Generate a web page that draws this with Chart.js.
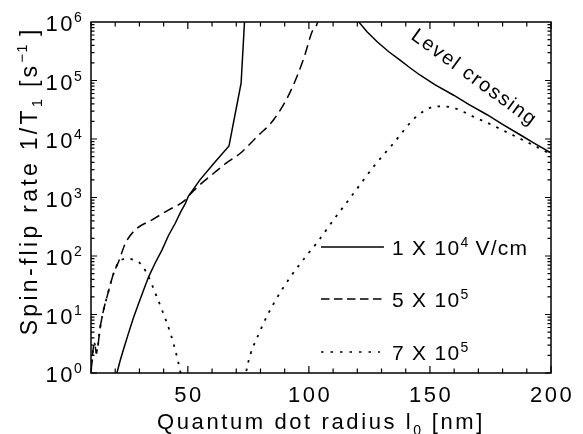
<!DOCTYPE html>
<html>
<head>
<meta charset="UTF-8">
<title>Spin-flip rate</title>
<style>
  html, body { margin: 0; padding: 0; background: #fff; }
  #wrap { width: 583px; height: 434px; }
</style>
</head>
<body>
<div id="wrap"><canvas id="rateChart" width="583" height="434"></canvas></div>
<script src="https://cdn.jsdelivr.net/npm/chart.js"></script>
<script>
const xTickLabels = [50, 100, 150, 200];
const yDecades = [0, 1, 2, 3, 4, 5, 6];
const seriesNames = ['1 X 10', '5 X 10', '7 X 10'];
const seriesExponents = ['4', '5', '5'];
const seriesUnits = [' V/cm', '', ''];

// 1 X 10^4 V/cm (solid) - null = curve leaves the top of the plot
const solidX = [20, 20.7, 22, 23.5, 25.5, 27.5, 29.7, 31.7, 33.8, 36.5, 39.3, 42, 44.8, 47, 49, 50.2, 55, 60.7,
  67, 72, 73.4, 73.7, null,
  119.6, 120.6, 124, 128.2, 133, 137.8, 142, 146, 152, 159.8, 166, 173.6, 180, 187.4, 193, 200];
const solidY = [0.7, 1, 1.6, 2.6, 4.8, 8.7, 15.5, 26, 44, 76, 126, 224, 363, 562, 794, 1050, 2000, 3800,
  7600, 9e4, 1e6, 1.5e6, null,
  1.5e6, 1e6, 6.8e5, 4.6e5, 3.1e5, 2.2e5, 1.62e5, 1.23e5, 8.5e4, 5.6e4, 3.9e4, 2.6e4, 1.78e4, 1.17e4, 8.5e3, 5.8e3];

// 5 X 10^5 (dashed)
const dashX = [10, 10.4, 10.8, 11.5, 12.2, 12.8, 13.8, 15.2, 16.6, 19.3, 21.4, 24.2, 28.3, 35.2, 42, 49, 50.2,
  55, 60.7, 66, 71.7, 78.6, 85.5, 92.4, 97.9, 101.3, 103.6, 104.3];
const dashY = [1.1, 1.5, 2.4, 3.2, 2.2, 2.8, 6, 12, 20, 50, 80, 165, 280, 415, 610, 910, 1050,
  1650, 2600, 3900, 5700, 1.1e4, 2.15e4, 6.5e4, 2.4e5, 6.8e5, 1e6, 1.5e6];

// 7 X 10^5 (dotted)
const dotX = [10, 10.4, 10.8, 11.5, 12.2, 12.8, 13.8, 15.2, 16.6, 19.3, 21.4, 23.2, 25.5, 27.5, 29.7, 31.8,
  33.8, 36.6, 39.3, 42.8, 45.5, 46.9, 47.6, null, 73.6, 74.5, 80, 85.5, 92.4, 99.3, 103.4, 110.2, 118.5,
  126.8, 135, 143.3, 148, 152.3, 155.7, 160, 164, 168, 173.6, 181.9, 191.5, 200];
const dotY = [1.1, 1.5, 2.4, 3.2, 2.2, 2.8, 6, 12, 20, 50, 78, 88, 90, 86, 79, 62,
  44, 23, 12, 4.8, 1.9, 1.05, 0.75, null, 0.75, 1.28, 5.4, 15.5, 44, 105, 170, 415, 1180,
  3400, 8500, 2.2e4, 3.1e4, 3.6e4, 3.6e4, 3.4e4, 2.9e4, 2.4e4, 1.9e4, 1.3e4, 8.3e3, 5.5e3];

const FONT = '"Liberation Sans", Arial, sans-serif';
const dashes = [[], [10, 5.5], [2.5, 6.5]];

function toPoints(xs, ys) {
  return xs.map((x, i) => ({ x: x, y: ys[i] }));
}

// draws text pieces (normal / sub / sup) one after another
function richWidth(ctx, parts) {
  let w = 0;
  parts.forEach(p => {
    ctx.font = p.size + 'px ' + FONT;
    ctx.letterSpacing = p.sp + 'px';
    w += ctx.measureText(p.t).width;
  });
  return w;
}
function drawRich(ctx, parts, x, y, align) {
  let cx = x;
  if (align === 'center') cx = x - richWidth(ctx, parts) / 2;
  if (align === 'right') cx = x - richWidth(ctx, parts);
  ctx.textAlign = 'left';
  ctx.textBaseline = 'alphabetic';
  parts.forEach(p => {
    ctx.font = p.size + 'px ' + FONT;
    ctx.letterSpacing = p.sp + 'px';
    ctx.fillText(p.t, cx, y + (p.dy || 0));
    cx += ctx.measureText(p.t).width;
  });
}

const decorations = {
  id: 'decorations',
  afterDatasetsDraw(chart) {
    const { ctx, chartArea: a, scales: { x, y } } = chart;
    ctx.save();
    ctx.strokeStyle = '#000';
    ctx.fillStyle = '#000';
    ctx.setLineDash([]);

    // inward ticks, all four sides
    ctx.lineWidth = 1.2;
    ctx.beginPath();
    for (let v = 10; v <= 200; v += 10) {
      const px = x.getPixelForValue(v);
      const len = v % 50 === 0 ? 7 : 4.5;
      ctx.moveTo(px, a.bottom); ctx.lineTo(px, a.bottom - len);
      ctx.moveTo(px, a.top); ctx.lineTo(px, a.top + len);
    }
    for (let d = 0; d < 6; d++) {
      for (let m = 1; m <= 9; m++) {
        const py = y.getPixelForValue(m * Math.pow(10, d));
        const len = m === 1 ? 6 : 3.5;
        ctx.moveTo(a.left, py); ctx.lineTo(a.left + len, py);
        ctx.moveTo(a.right, py); ctx.lineTo(a.right - len, py);
      }
    }
    ctx.stroke();

    // frame
    ctx.lineWidth = 1.5;
    ctx.strokeRect(a.left, a.top, a.right - a.left, a.bottom - a.top);

    // x tick labels
    xTickLabels.forEach(v => {
      drawRich(ctx, [{ t: String(v), size: 22, sp: 2.5 }], x.getPixelForValue(v) + 1.2, a.bottom + 29, 'center');
    });

    // y tick labels 10^n
    yDecades.forEach(n => {
      const py = y.getPixelForValue(Math.pow(10, n));
      drawRich(ctx, [{ t: '10', size: 22, sp: 2.5 }], a.left - 16, py + 9, 'right');
      drawRich(ctx, [{ t: String(n), size: 14, sp: 0 }], a.left - 17, py, 'left');
    });

    // axis titles
    drawRich(ctx, [
      { t: 'Quantum dot radius l', size: 22, sp: 2.6 },
      { t: '0', size: 14, sp: 2, dy: 6 },
      { t: ' [nm]', size: 22, sp: 2.6 }
    ], (a.left + a.right) / 2, a.bottom + 56, 'center');

    ctx.save();
    ctx.translate(37, 182);
    ctx.rotate(-Math.PI / 2);
    drawRich(ctx, [
      { t: 'Spin-flip rate 1/T', size: 23, sp: 3.3 },
      { t: '1', size: 15, sp: 2, dy: 5 },
      { t: ' [s', size: 23, sp: 3.3 },
      { t: '\u22121', size: 15, sp: 1, dy: -10 },
      { t: ' ]', size: 23, sp: 1 }
    ], 0, 0, 'center');
    ctx.restore();

    // legend
    const lx0 = x.getPixelForValue(105), lx1 = x.getPixelForValue(131);
    const rows = [247, 299, 352];
    seriesNames.forEach((name, i) => {
      ctx.lineWidth = 1.5;
      ctx.setLineDash(i === 2 ? [2.5, 7] : i === 1 ? [8.5, 4.5] : []);
      ctx.beginPath();
      ctx.moveTo(lx0, rows[i]);
      ctx.lineTo(i === 2 ? lx1 - 4 : lx1, rows[i]);
      ctx.stroke();
      ctx.setLineDash([]);
      const parts = [
        { t: name, size: 21, sp: 1.3 },
        { t: seriesExponents[i], size: 14, sp: 0, dy: -7.5 }
      ];
      if (seriesUnits[i]) parts.push({ t: seriesUnits[i], size: 21, sp: 1.3 });
      drawRich(ctx, parts, lx1 + 8, rows[i] + 7.5, 'left');
    });

    // annotation along the crossing curve
    ctx.save();
    ctx.translate(474, 78);
    ctx.rotate(36 * Math.PI / 180);
    ctx.font = '20px ' + FONT;
    ctx.letterSpacing = '1.6px';
    ctx.textAlign = 'center';
    ctx.textBaseline = 'middle';
    ctx.fillText('Level crossing', 0, 0);
    ctx.restore();

    ctx.restore();
  }
};

new Chart(document.getElementById('rateChart').getContext('2d'), {
  type: 'scatter',
  data: {
    datasets: [
      { label: '1 X 10^4 V/cm', data: toPoints(solidX, solidY) },
      { label: '5 X 10^5', data: toPoints(dashX, dashY), cubicInterpolationMode: 'monotone' },
      { label: '7 X 10^5', data: toPoints(dotX, dotY), cubicInterpolationMode: 'monotone' }
    ].map((ds, i) => Object.assign({
      showLine: true,
      spanGaps: false,
      borderColor: '#000',
      borderWidth: i === 2 ? 1.8 : 1.5,
      borderDash: dashes[i],
      pointRadius: 0,
      pointHoverRadius: 0,
      fill: false
    }, ds))
  },
  options: {
    responsive: false,
    animation: false,
    devicePixelRatio: 1,
    layout: { padding: { left: 91, right: 32, top: 22, bottom: 61 } },
    plugins: { legend: { display: false }, tooltip: { enabled: false } },
    scales: {
      x: {
        type: 'linear', min: 10, max: 200,
        ticks: { display: false },
        grid: { display: false, drawTicks: false },
        border: { display: false }
      },
      y: {
        type: 'logarithmic', min: 1, max: 1e6,
        ticks: { display: false },
        grid: { display: false, drawTicks: false },
        border: { display: false }
      }
    }
  },
  plugins: [decorations]
});
</script>
</body>
</html>
